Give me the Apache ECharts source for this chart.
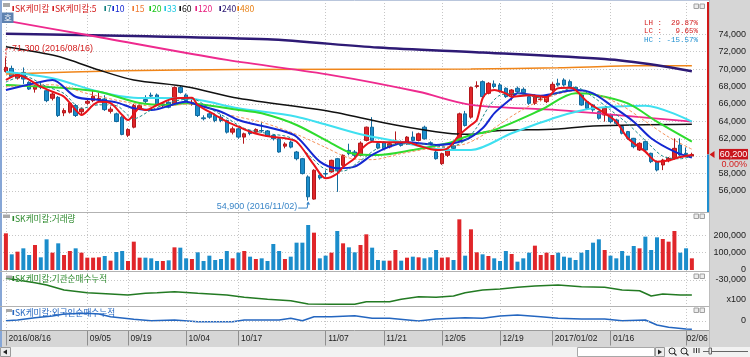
<!DOCTYPE html>
<html><head><meta charset="utf-8">
<script src="https://cdn.jsdelivr.net/npm/echarts@6/dist/echarts.min.js"></script>
<style>html,body{margin:0;padding:0;background:#fff;overflow:hidden}#c{width:750px;height:357px}</style>
</head><body><div id="c"></div><script>
// ---------- data ----------
const dates = [
'2016/08/16','2016/08/17','2016/08/18','2016/08/19','2016/08/22','2016/08/23','2016/08/24','2016/08/25','2016/08/26','2016/08/29','2016/08/30','2016/08/31',
'2016/09/01','2016/09/02','2016/09/05','2016/09/06','2016/09/07','2016/09/08','2016/09/09','2016/09/12','2016/09/13','2016/09/19','2016/09/20','2016/09/21','2016/09/22','2016/09/23','2016/09/26','2016/09/27','2016/09/28','2016/09/29','2016/09/30',
'2016/10/04','2016/10/05','2016/10/06','2016/10/07','2016/10/10','2016/10/11','2016/10/12','2016/10/13','2016/10/14','2016/10/17','2016/10/18','2016/10/19','2016/10/20','2016/10/21','2016/10/24','2016/10/25','2016/10/26','2016/10/27','2016/10/28','2016/10/31',
'2016/11/01','2016/11/02','2016/11/03','2016/11/04','2016/11/07','2016/11/08','2016/11/09','2016/11/10','2016/11/11','2016/11/14','2016/11/15','2016/11/16','2016/11/17','2016/11/18','2016/11/21','2016/11/22','2016/11/23','2016/11/24','2016/11/25','2016/11/28','2016/11/29','2016/11/30',
'2016/12/01','2016/12/02','2016/12/05','2016/12/06','2016/12/07','2016/12/08','2016/12/09','2016/12/12','2016/12/13','2016/12/14','2016/12/15','2016/12/16','2016/12/19','2016/12/20','2016/12/21','2016/12/22','2016/12/23','2016/12/26','2016/12/27','2016/12/28','2016/12/29',
'2017/01/02','2017/01/03','2017/01/04','2017/01/05','2017/01/06','2017/01/09','2017/01/10','2017/01/11','2017/01/12','2017/01/13','2017/01/16','2017/01/17','2017/01/18','2017/01/19','2017/01/20','2017/01/23','2017/01/24','2017/01/25','2017/01/26','2017/01/31',
'2017/02/01','2017/02/02','2017/02/03','2017/02/06','2017/02/07'];
const tickDates = ['2016/08/16','2016/09/05','2016/09/19','2016/10/04','2016/10/17','2016/11/07','2016/11/21','2016/12/05','2016/12/19','2017/01/02','2017/01/16','2017/02/06'];

const opens = [69730,70080,68970,69620,68480,67700,68100,67520,66650,66760,64970,65050,65810,65100,66080,66380,66500,66570,65150,64860,
64480,62400,63330,65500,66500,67000,67030,65800,66190,66000,67900,67030,66000,65810,64400,64860,64670,64480,64100,62760,
63140,62190,62900,62760,62950,62900,62380,62000,61150,61620,60480,59710,57620,55070,57810,58000,58190,59710,58950,60670,
60480,60100,61810,63330,61430,61620,61050,61540,61620,61430,62190,61810,63330,61540,60480,59140,60100,61200,61810,64860,
64480,68000,68560,67220,68300,68180,67800,67030,67800,67680,66840,66070,66500,66260,67600,68370,68750,68560,67900,67030,
66260,65880,65110,64730,64730,64160,63400,62820,62050,60710,61670,60330,59370,58990,59480,59750,61280,60330,60020];
const closes = [70190,69160,69430,68860,67710,68100,67900,66380,67140,64670,65240,66080,64670,65430,66300,66880,66650,65350,65400,63980,
62500,63070,65810,65800,66300,66900,65900,66000,65620,67900,67330,66380,66190,64670,64300,64480,64100,64100,62760,63140,
62190,62570,62600,63070,62900,62300,62000,60480,61400,61040,59710,58000,55330,58380,57500,57950,59520,58380,60100,60290,
60100,61500,63330,61810,60950,60860,61430,61620,61240,62190,61810,62570,62000,61450,59710,60290,60670,60900,64860,63520,
67900,68100,66840,68370,68000,67410,66840,67600,67410,67300,66070,66840,66560,66840,68250,68180,68180,67990,67700,65880,
65500,65310,64350,65500,63970,63770,62630,62050,61090,61480,60710,59370,58410,59560,59750,60900,60130,60200,60200];
const lows = [69600,69000,68800,68300,67600,67300,67700,66200,66400,64500,64600,64900,64500,64700,65900,66200,66300,65200,64900,63900,
62400,62190,63200,65300,66000,66700,65800,65600,65500,65900,67200,66200,65800,64500,64100,64300,63900,63900,62600,62500,
62000,61430,62400,62600,62700,62200,61800,60400,60900,60900,59520,57900,54900,55000,57300,57620,58100,55900,58800,60100,
59900,60000,61700,61700,60800,60700,60900,61400,61100,61300,61700,61700,61900,61300,59600,59000,59900,60700,61700,63400,
64300,67800,66700,67100,67800,67300,66700,66400,67300,67100,65900,65900,66300,66100,67400,68000,68000,67800,67500,65800,
65300,65100,64200,63970,63800,63600,62500,61900,60900,60600,60500,59200,58250,58400,59300,59600,60000,59900,59900];
const highs = [71300,70400,69600,70190,68600,68200,68500,67600,67300,66900,65500,66200,66000,65600,66500,67700,67330,67000,65700,65000,
64600,63200,66000,66100,67000,67300,67200,66200,66300,68000,68100,67200,66500,66000,64700,65100,64900,64800,64200,63400,
63300,62700,63000,63200,63900,63000,62500,62100,61600,61800,60600,59800,57800,58500,57900,58380,59600,59800,60200,61430,
60700,61700,63400,64480,61600,61700,61600,62840,61800,62300,62840,62700,63500,61700,60700,60400,60800,61400,65000,65200,
68000,68600,68700,68500,68700,68400,67900,67700,68000,67900,67000,67100,66800,67000,68500,68900,68950,68800,68000,67200,
66400,66000,65200,65600,64900,64300,63500,62900,62100,61600,61800,60400,59500,59700,59900,62050,62050,61000,60400];
const volumes = [210760,90050,105380,124540,86220,143700,72810,176270,99630,153280,
86220,109210,124540,99630,70890,70890,72810,80470,53650,103460,
109210,51730,162860,70890,70890,67060,51730,51730,55560,130290,
128370,67060,63230,101550,51730,82390,57480,63230,109210,67060,
99630,109210,76640,63230,67060,51730,149450,109210,63230,76640,
157110,157110,258660,214590,67060,82390,99630,224170,153280,130290,
101550,143700,205010,128370,57480,53650,53650,114960,53650,70890,
76640,72810,67060,72810,114960,70890,72810,57480,291230,82390,
233750,101550,90050,80470,67060,51730,109210,91970,47900,67060,
99630,139870,86220,99630,86220,99630,76640,70890,57480,99630,
114960,157110,176270,114960,82390,67060,109210,82390,137950,124540,
191600,114960,187770,178190,162860,224170,99630,124540,67060];

// moving averages as [candle index, value]
const ma5 = [[0,68750],[2,69330],[6,67980],[8,67400],[10,66830],[12,65300],[13,64730],[15,65880],[16,66260],[18,66100],[20,64730],[21,64150],[23,65500],[24,65300],[26,65880],[29,66650],[32,66720],[33,65880],[36,64730],[38,63960],[40,63390],[42,62810],[44,62430],[46,62200],[48,62060],[50,61670],[53,59000],[55,57460],[57,58000],[58,58760],[60,59760],[61,60710],[63,61670],[66,61600],[69,61600],[71,61200],[74,60710],[76,60900],[78,62430],[80,63580],[81,64150],[82,66650],[83,67400],[84,67600],[86,67200],[87,66830],[90,67000],[93,66800],[95,67800],[97,67850],[98,67600],[100,66260],[103,64920],[105,63960],[107,62060],[110,60520],[112,59370],[114,59500],[116,59900],[118,60140]];
const ma7 = [[0,68500],[3,69200],[7,68000],[10,67200],[13,65500],[16,65900],[19,65800],[22,64300],[25,65300],[29,66300],[32,66600],[35,65500],[38,64400],[41,63200],[45,62600],[49,62100],[52,60200],[55,58500],[58,58300],[61,59500],[64,60900],[68,61400],[72,61400],[76,61000],[79,61800],[81,63300],[83,65600],[85,67000],[88,67200],[92,66700],[95,67300],[98,67900],[101,66800],[104,65300],[107,63700],[110,61800],[113,60000],[116,59700],[118,60000]];
const ma10 = [[0,67600],[5,68370],[8,68750],[12,66830],[16,66450],[19,66180],[22,65500],[25,65300],[31,66260],[33,65880],[37,65110],[40,64150],[42,63780],[47,63000],[50,62240],[54,59370],[57,58610],[60,58800],[63,60140],[66,61100],[69,61600],[74,61290],[79,61860],[82,63200],[84,64920],[87,66650],[88,67220],[92,66950],[98,67600],[101,67220],[104,65880],[108,63960],[111,62060],[115,60520],[118,59830]];
const ma15 = [[0,68000],[8,68200],[14,67200],[20,66300],[26,65700],[32,66000],[38,64800],[44,63900],[50,62500],[55,61000],[59,59800],[63,59600],[68,60300],[74,61000],[79,61400],[83,62800],[88,65000],[93,66700],[98,67500],[102,67000],[106,65800],[110,64000],[114,62200],[118,60800]];
const ma20 = [[0,68180],[8,67910],[16,67400],[23,66100],[28,65880],[31,66070],[40,65300],[44,64920],[50,63580],[56,61480],[60,60250],[64,60140],[70,60710],[76,61480],[80,62430],[84,63000],[92,65300],[98,67220],[101,67100],[107,66070],[112,63960],[118,61670]];
const ma33 = [[0,69700],[8,68950],[16,67400],[22,66720],[31,66650],[40,65500],[50,64530],[61,62510],[67,61740],[76,60710],[80,60710],[87,62630],[95,64530],[101,65500],[110,65800],[118,63960]];
const ma60 = [[0,72580],[8,71620],[11,71050],[16,69900],[22,68750],[31,67980],[40,66650],[56,65110],[67,63580],[76,62630],[80,62510],[84,62900],[95,63120],[101,63470],[118,63660]];
const ma120 = [[0,75560],[14,73920],[38,71050],[56,69320],[71,67400],[80,65900],[95,65300],[118,63960]];
const ma240 = [[0,74050],[22,73800],[45,73420],[64,72480],[82,71900],[103,71150],[112,70450],[118,69750]];
const ma480 = [[0,69450],[20,69800],[40,69950],[80,70000],[95,70150],[108,70380],[118,70400]];

const instCum = [[0,-28300],[2,-30000],[5,-32700],[7,-35000],[10,-40000],[14,-42700],[18,-44000],[21,-45000],[24,-43300],[26,-42700],[29,-41700],[33,-43300],[38,-45000],[41,-47300],[45,-49300],[49,-50700],[52,-54000],[56,-54300],[60,-54300],[62,-51700],[66,-51700],[68,-49300],[71,-46700],[74,-47300],[77,-46000],[79,-42700],[82,-40000],[85,-39000],[88,-37300],[91,-36000],[95,-35000],[99,-36700],[103,-37300],[106,-40000],[109,-40700],[111,-46000],[113,-44000],[116,-45000],[118,-45000]];
const foreignCum = [[0,300],[2,1000],[5,3300],[8,5000],[10,7000],[14,7700],[16,7000],[18,4300],[22,1700],[25,300],[29,1000],[33,-700],[39,-700],[41,1000],[47,1000],[49,2700],[51,300],[53,4300],[56,4300],[60,5300],[63,2700],[66,2700],[71,0],[74,2000],[79,3300],[82,2700],[85,5000],[88,6000],[92,4300],[95,2700],[99,2000],[103,2000],[106,300],[110,1000],[112,-4000],[114,-6300],[117,-8000],[118,-8300]];

// ---------- chart ----------
const UP = '#e0262a', UPB = '#b3171b', DN = '#1b8dcb', DNB = '#12699c';
const F_KR = '"Noto Sans CJK KR","Noto Sans",sans-serif';
const F_NUM = '"Liberation Sans",Arial,sans-serif';
const cats = dates.concat([' ', '  ']);
const tickSet = new Set(tickDates.map(d => dates.indexOf(d)));
const isTick = (i) => tickSet.has(i);
const fmt = v => v.toLocaleString('en-US');
const LEFT = 3, W = 703.4;
const GRID = { outerBoundsMode: 'none', containLabel: false, show: false };
const dot = { color: '#c6c6c6', type: [1, 2], width: 1 };
const lastTick = tickDates[tickDates.length - 1];

const candleData = opens.map((o, i) => [o, closes[i], lows[i], highs[i]]);
const volData = volumes.map((v, i) => ({ value: v, itemStyle: { color: closes[i] >= opens[i] ? UP : DN } }));

function hiddenX(gi) {
  return { type: 'category', gridIndex: gi, data: cats, boundaryGap: true,
    axisLine: { show: false }, axisTick: { show: false }, axisLabel: { show: false }, splitLine: { show: false } };
}
function rightY(gi, o) {
  return Object.assign({ type: 'value', gridIndex: gi, position: 'right', scale: false,
    axisLine: { show: false }, axisTick: { show: false },
    axisLabel: { align: 'right', margin: 39.6, fontSize: 9, fontFamily: F_NUM, color: '#222' },
    splitLine: { show: false } }, o);
}
function maLine(data, color, width, dashed) {
  return { type: 'line', xAxisIndex: 0, yAxisIndex: 0, data: data, symbol: 'none', smooth: 0.3,
    clip: false, connectNulls: true, silent: true, z: 3,
    lineStyle: { color: color, width: width, type: dashed ? [3, 2] : 'solid' } };
}

const option = {
  animation: false,
  backgroundColor: '#ffffff',
  grid: [
    Object.assign({ left: LEFT, width: W, top: 34.3, height: 174.1 }, GRID),
    Object.assign({ left: 5.9, width: 697.6, top: 0, height: 330.5 }, GRID),
    Object.assign({ left: LEFT, width: W, top: 217.8, height: 52.2 }, GRID),
    Object.assign({ left: LEFT, width: W, top: 272, height: 38 }, GRID),
    Object.assign({ left: LEFT, width: W, top: 306, height: 25 }, GRID)
  ],
  xAxis: [
    hiddenX(0),
    { type: 'category', gridIndex: 1, data: cats, boundaryGap: false, position: 'bottom',
      axisLine: { show: false },
      axisTick: { show: true, length: 15, interval: isTick, lineStyle: { color: '#8e8e8e' } },
      axisLabel: { interval: isTick, align: 'left', margin: 3.5, fontSize: 8.5, fontFamily: F_NUM, color: '#222',
        formatter: (v) => {
          const t = (v === '2016/08/16' || v === '2017/01/02') ? v : v.slice(5);
          return v === lastTick ? '{e|' + t + '}' : '{n|' + t + '}';
        },
        rich: { n: { padding: [0, 0, 0, 2.5], fontSize: 8.5, fontFamily: F_NUM, color: '#222' },
                e: { padding: [0, 0, 0, 0.5], fontSize: 8.5, fontFamily: F_NUM, color: '#222' } } },
      splitLine: { show: true, interval: isTick, lineStyle: dot } },
    hiddenX(2), hiddenX(3), hiddenX(4)
  ],
  yAxis: [
    rightY(0, { min: 54000, max: 74000, interval: 2000,
      axisLabel: { align: 'right', margin: 39.6, fontSize: 9, fontFamily: F_NUM, color: '#222', showMinLabel: false, formatter: fmt },
      splitLine: { show: true, showMinLine: false, lineStyle: dot } }),
    { type: 'value', gridIndex: 1, min: 0, max: 1, show: false },
    rightY(2, { min: 0, max: 300000, interval: 100000,
      axisLabel: { align: 'right', margin: 39.6, fontSize: 9, fontFamily: F_NUM, color: '#222', showMaxLabel: false, formatter: fmt },
      splitLine: { show: true, showMinLine: false, showMaxLine: false, lineStyle: dot } }),
    rightY(3, { min: -60000, max: -22000, interval: 30000,
      axisLabel: { align: 'right', margin: 39.6, fontSize: 9, fontFamily: F_NUM, color: '#222',
        formatter: v => v === -30000 ? fmt(v) : '' } }),
    rightY(4, { min: -10000, max: 15000, interval: 10000,
      axisLabel: { align: 'right', margin: 39.6, fontSize: 9, fontFamily: F_NUM, color: '#222',
        formatter: v => v === 0 ? '0' : '' } })
  ],
  series: [
    { type: 'candlestick', xAxisIndex: 0, yAxisIndex: 0, data: candleData, barWidth: 4, silent: true, z: 2,
      itemStyle: { color: UP, color0: DN, borderColor: UPB, borderColor0: DNB, borderWidth: 1 } },
    maLine(ma480, '#f08519', 1.5),
    maLine(ma240, '#2e1a75', 2.5),
    maLine(ma120, '#ee2a8e', 1.8),
    maLine(ma60, '#111111', 1.5),
    maLine(ma33, '#3fe0f0', 2),
    maLine(ma20, '#2edc2e', 2),
    maLine(ma15, '#f5925a', 1, true),
    maLine(ma10, '#1428d2', 2),
    maLine(ma7, '#1f8a8a', 1, true),
    maLine(ma5, '#e8141b', 2),
    { type: 'bar', xAxisIndex: 2, yAxisIndex: 2, data: volData, barWidth: 4, silent: true,
      itemStyle: { borderWidth: 0 } },
    { type: 'line', xAxisIndex: 3, yAxisIndex: 3, data: instCum, symbol: 'none', clip: false, silent: true,
      lineStyle: { color: '#237a23', width: 1.6 },
      markLine: { silent: true, symbol: 'none', label: { show: false }, lineStyle: dot, data: [{ yAxis: -30000 }] } },
    { type: 'line', xAxisIndex: 4, yAxisIndex: 4, data: foreignCum, symbol: 'none', clip: false, silent: true,
      lineStyle: { color: '#2466c0', width: 1.6 },
      markLine: { silent: true, symbol: 'none', label: { show: false }, lineStyle: dot, data: [{ yAxis: 0 }] } }
  ]
};

const chart = echarts.init(document.getElementById('c'), null, { renderer: 'canvas' });
chart.setOption(option);

// ---------- decorations ----------
function T(x, y, text, color, size, align, family, z) {
  return { type: 'text', x: x, y: y, z: z || 60, silent: true,
    style: { text: text, fill: color, font: size + 'px ' + (family || F_KR), align: align || 'left', verticalAlign: 'middle' } };
}
function R(x, y, w, h, fill, stroke, z) {
  return { type: 'rect', z: z === undefined ? 60 : z, silent: true, shape: { x: x, y: y, width: w, height: h },
    style: { fill: fill, stroke: stroke || null, lineWidth: stroke ? 1 : 0 } };
}
function L(x1, y1, x2, y2, color, w, dash, z) {
  return { type: 'line', z: z === undefined ? 60 : z, silent: true, shape: { x1: x1, y1: y1, x2: x2, y2: y2 },
    style: { stroke: color, lineWidth: w || 1, lineDash: dash || null } };
}
const g = [];
// panels
g.push(R(709, 0, 41, 347, '#d6d6d6', null, -5));
g.push(R(0, 331, 709, 16, '#d6d6d6', null, -5));
g.push(R(0, 347, 750, 10, '#f2f2f2', null, -5));
g.push(L(0, 0.5, 709, 0.5, '#b9c6dc', 1, null, 70));
g.push(L(1, 0, 1, 347, '#86a6d6', 2, null, 70));
[212.5, 271.5, 306.5].forEach(y => g.push(L(0, y, 709, y, '#b2b2b2', 1, null, 70)));
g.push(L(0, 330.5, 709, 330.5, '#9a9a9a', 1, null, 70));
g.push(L(709.5, 0, 709.5, 347, '#bdbdbd', 1, null, 70));
// small pane buttons
[4, 214, 274, 308].forEach(y => { g.push(R(694, y, 4.5, 4.5, '#ececec', '#a0a0a0')); g.push(R(700, y, 4.5, 4.5, '#ececec', '#a0a0a0')); });
// legend
g.push(R(3, 3, 7, 4, '#a8a8a8', null));
const legend = [['SK케미칼', '#d42020', 15], ['SK케미칼:5', '#d42020', 55], ['7', '#128080', 107], ['10', '#1428d2', 115],
  ['15', '#f07a30', 135], ['20', '#1ec81e', 152], ['33', '#20c8e0', 167], ['60', '#111', 182], ['120', '#e8207f', 198],
  ['240', '#2e1a75', 222], ['480', '#e87e10', 240]];
legend.forEach(([t, c, x]) => { g.push(R(x - 2.6, 6, 1.6, 5, c, null)); g.push(T(x, 8.6, t, c, 8.6)); });
g.push(R(2, 12.5, 11.5, 10.5, '#5e82b0', null));
g.push(T(7.8, 17.8, '호', '#ffffff', 8.5, 'center'));
// LH LC HC
g.push(T(698, 23.5, 'LH :  29.87%', '#d42020', 7.5, 'right', '"Liberation Mono",monospace'));
g.push(T(698, 31.2, 'LC :   9.65%', '#d42020', 7.5, 'right', '"Liberation Mono",monospace'));
g.push(T(698, 39.6, 'HC : -15.57%', '#1f8fd0', 7.5, 'right', '"Liberation Mono",monospace'));
// pane titles
g.push(R(3, 214.5, 7, 3.5, '#a8a8a8', null));
g.push(R(12.5, 216, 1.6, 5, '#2e8b2e', null));
g.push(T(15, 218.7, 'SK케미칼:거래량', '#2e8b2e', 8.6));
g.push(R(6, 275.5, 6, 3, '#a8a8a8', null));
g.push(R(12.5, 276, 1.6, 5, '#237a23', null));
g.push(T(15, 278.4, 'SK케미칼:기관순매수누적', '#2e8b2e', 8.6));
g.push(R(6, 309, 6, 3, '#a8a8a8', null));
g.push(R(12.5, 310, 1.6, 5, '#2466c0', null));
g.push(T(15, 312.5, 'SK케미칼:외국인순매수누적', '#2466c0', 8.6));
g.push(T(746, 300, 'x100', '#222', 9, 'right', F_NUM));
// bottom controls
g.push(R(0.5, 347.5, 10, 9, '#ececec', '#9a9a9a'));
g.push({ type: 'polygon', z: 60, silent: true, shape: { points: [[3, 352], [7, 349.5], [7, 354.5]] }, style: { fill: '#222' } });
g.push(R(577.5, 347.5, 77, 9, '#ffffff', '#a8a8a8'));
g.push(R(655.5, 347.5, 9, 9, '#ececec', '#9a9a9a'));
g.push({ type: 'polygon', z: 60, silent: true, shape: { points: [[662, 352], [658, 349.5], [658, 354.5]] }, style: { fill: '#222' } });
[672, 684].forEach(x => { g.push({ type: 'circle', z: 60, silent: true, shape: { cx: x, cy: 351, r: 3 }, style: { fill: 'none', stroke: '#333', lineWidth: 1 } });
  g.push(L(x + 2, 353, x + 4.5, 355.5, '#333', 1.2)); });
[694, 696.5, 699].forEach(x => g.push(L(x, 348, x, 353, '#333', 1)));
g.push(L(703, 351.5, 748, 351.5, '#666', 1));
g.push(R(709, 348, 2.5, 6, '#ececec', '#666'));

// data-anchored marks
const px = (i, v) => chart.convertToPixel({ xAxisIndex: 0, yAxisIndex: 0 }, [i, v]);
const last = closes.length - 1;
const pc = px(last, closes[last]);
const paneTop = 2, paneBot = 212;
g.push(L(708, paneTop, 708, pc[1], '#d01818', 2, null, 65));
g.push(L(708, pc[1], 708, paneBot, '#1f8fd0', 2, null, 65));
g.push({ type: 'polygon', z: 66, silent: true, shape: { points: [[709.5, pc[1]], [714.5, pc[1] - 3.5], [714.5, pc[1] + 3.5]] }, style: { fill: '#d01818' } });
g.push(R(719, pc[1] - 5.5, 29, 10.5, '#c8161d', null, 66));
g.push(T(733.5, pc[1] - 0.2, fmt(closes[last]), '#ffffff', 9, 'center', F_NUM, 67));
g.push(T(747, pc[1] + 10, '0.00%', '#d42020', 9, 'right', F_NUM, 67));
// high / low annotations
let hiIdx = 0; highs.forEach((h, i) => { if (h > highs[hiIdx]) hiIdx = i; });
let loIdx = 0; lows.forEach((l, i) => { if (l < lows[loIdx]) loIdx = i; });
const ph = px(hiIdx, highs[hiIdx]);
g.push(L(ph[0], ph[1], ph[0], ph[1] - 9, '#d42020', 1, [2, 1.5]));
g.push(L(ph[0], ph[1] - 9, ph[0] + 5, ph[1] - 9, '#d42020', 1, [2, 1.5]));
g.push(T(ph[0] + 6, ph[1] - 9.5, fmt(highs[hiIdx]) + ' (' + dates[hiIdx] + ')', '#d42020', 9, 'left', F_NUM));
const pl = px(loIdx, lows[loIdx]);
g.push(T(pl[0] - 11, pl[1] + 5.5, fmt(lows[loIdx]) + ' (' + dates[loIdx] + ')', '#3a86c8', 9, 'right', F_NUM));
g.push({ type: 'polyline', z: 60, silent: true, shape: { points: [[pl[0] - 10, pl[1] + 7.5], [pl[0] - 1, pl[1] + 7.5], [pl[0], pl[1] + 1.5]] }, style: { stroke: '#3a86c8', lineWidth: 1, fill: null } });
g.push({ type: 'polygon', z: 60, silent: true, shape: { points: [[pl[0], pl[1] + 1], [pl[0] - 2, pl[1] + 4], [pl[0] + 2, pl[1] + 4]] }, style: { fill: '#3a86c8' } });

chart.setOption({ graphic: { elements: g } });
</script></body></html>
